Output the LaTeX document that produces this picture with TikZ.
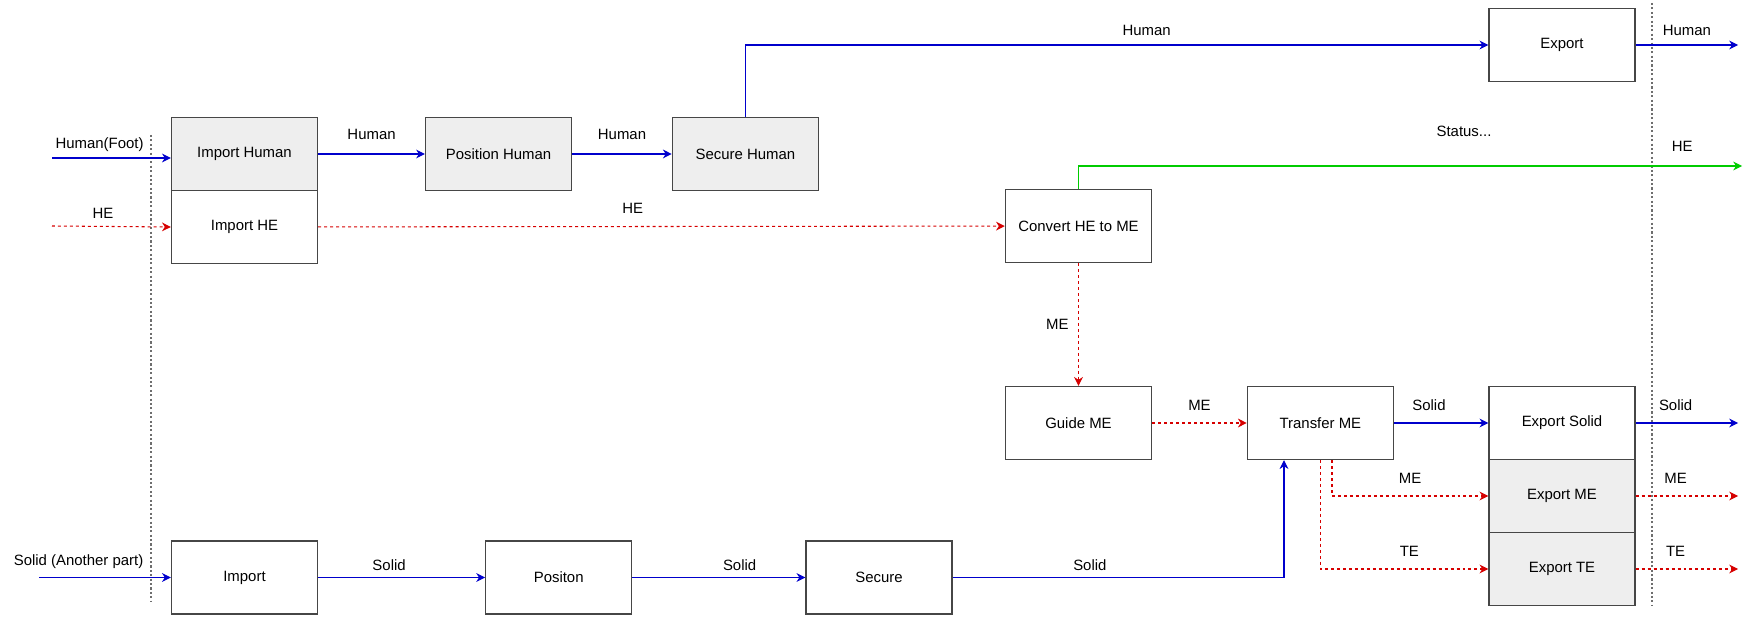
\documentclass[tikz,border=0pt]{standalone}
\usepackage{fontspec}
\setmainfont{Liberation Sans}
\usetikzlibrary{arrows.meta,calc,positioning}
\definecolor{flowblue}{RGB}{0,0,204}
\definecolor{flowred}{RGB}{214,0,0}
\definecolor{flowgreen}{RGB}{0,204,0}
\definecolor{boxgray}{RGB}{238,238,238}
\definecolor{boxline}{RGB}{70,70,70}
\definecolor{borderdots}{RGB}{110,110,110}

\tikzset{
  block/.style={draw=boxline,line width=0.8pt,minimum width=2.92cm,minimum height=1.46cm,inner sep=0pt,
    font=\fontsize{8.5}{10}\selectfont},
  grayblock/.style={block,fill=boxgray},
  tip/.style={-{Stealth[length=5pt,width=5pt,inset=1.6pt]}},
  solidflow/.style={tip,flowblue,line width=0.6pt},
  energyflow/.style={tip,flowred,line width=0.6pt,dash pattern=on 1.7pt off 1.7pt},
  heatflow/.style={tip,flowgreen,line width=0.6pt},
  lbl/.style={text=black,text depth=0pt,font=\fontsize{8.5}{10}\selectfont},
  boundary/.style={borderdots,line width=1.1pt,dash pattern=on 1.2pt off 1.3pt}
}

\begin{document}
\begin{tikzpicture}[x=0.02cm,y=-0.02cm]
        \useasboundingbox (0,0) rectangle (1747,617);
        % system boundaries
        \draw[boundary] (150.7,135) -- (150.7,602);
        \draw[boundary] (1651.7,3) -- (1651.7,606);
        % blocks, human branch
        \node[grayblock] (ih) at (244.5,154) {Import Human};
        \node[block] (ihe) at (244.5,227) {Import HE};
        \node[grayblock] (ph) at (498.6,154) {Position Human};
        \node[grayblock] (sh) at (745.4,154) {Secure Human};
        \node[block] (ex) at (1562,45) {Export};
        % blocks, energy branch
        \node[block] (conv) at (1078.5,226) {Convert HE to ME};
        \node[block] (guide) at (1078.5,423) {Guide ME};
        \node[block] (trans) at (1320.4,423) {Transfer ME};
        \node[block] (exs) at (1562,423) {Export Solid};
        \node[grayblock] (exm) at (1562,496) {Export ME};
        \node[grayblock] (ext) at (1562,569) {Export TE};
        % blocks, solid branch
        \node[block] (imp) at (244.5,577.5) {Import};
        \node[block] (pos) at (558.7,577.5) {Positon};
        \node[block] (sec) at (879,577.5) {Secure};
        \node[lbl] (status) at (1464,131) {Status...};
        % free ends
        \coordinate (humanin) at (52,158);
        \coordinate (hein) at (52,226);
        \coordinate (solidin) at (39,577.5);
        \coordinate (humanout) at (1738,45);
        \coordinate (heout) at (1742,166);
        \coordinate (solidout) at (1738,423);
        \coordinate (meout) at (1738,496);
        \coordinate (teout) at (1738,569);
        % inputs
        \draw[solidflow] (humanin) -- (humanin -| ih.west) node[lbl,pos=0.4,above=2pt]{Human(Foot)};
        \draw[energyflow] (hein) -- (ihe.west) node[lbl,pos=0.43,above=0.6pt]{HE};
        \draw[solidflow] (solidin) -- (imp.west) node[lbl,pos=0.3,above=3.2pt]{Solid (Another part)};
        % human flow
        \draw[solidflow] (ih) -- (ph) node[lbl,midway,above=4.4pt]{Human};
        \draw[solidflow] (ph) -- (sh) node[lbl,midway,above=4.4pt]{Human};
        \draw[solidflow] (sh.north) |- (ex.west) node[lbl,pos=0.77,above=1.8pt]{Human};
        \draw[solidflow] (ex.east) -- (humanout) node[lbl,midway,above=1.6pt]{Human};
        % energy flow
        \draw[energyflow] (ihe) -- (conv) node[lbl,pos=0.458,above=3.8pt]{HE};
        \draw[heatflow] (conv.north) |- (heout) node[lbl,pos=0.955,above=4.4pt]{HE};
        \draw[energyflow] (conv) -- (guide) node[lbl,midway,left=2pt]{ME};
        \draw[energyflow] (guide) -- (trans) node[lbl,midway,above=3.3pt]{ME};
        \draw[solidflow] (trans) -- (exs) node[lbl,pos=0.37,above=3.5pt]{Solid};
        \draw[energyflow] ([xshift=0.232cm]trans.south) |- (exm.west) node[lbl,pos=0.75,above=3.3pt]{ME};
        \draw[energyflow] (trans.south) |- (ext.west) node[lbl,pos=0.765,above=3.5pt]{TE};
        % outputs
        \draw[solidflow] (exs.east) -- (solidout) node[lbl,pos=0.39,above=3.5pt]{Solid};
        \draw[energyflow] (exm.east) -- (meout) node[lbl,pos=0.39,above=3.3pt]{ME};
        \draw[energyflow] (ext.east) -- (teout) node[lbl,pos=0.39,above=3.5pt]{TE};
        % solid flow
        \draw[solidflow] (imp) -- (pos) node[lbl,pos=0.425,above=0.6pt]{Solid};
        \draw[solidflow] (pos) -- (sec) node[lbl,pos=0.62,above=0.6pt]{Solid};
        \draw[solidflow] (sec.east) -| ([xshift=-0.728cm]trans.south) node[lbl,pos=0.207,above=0.6pt]{Solid};
      \end{tikzpicture}
\end{document}
